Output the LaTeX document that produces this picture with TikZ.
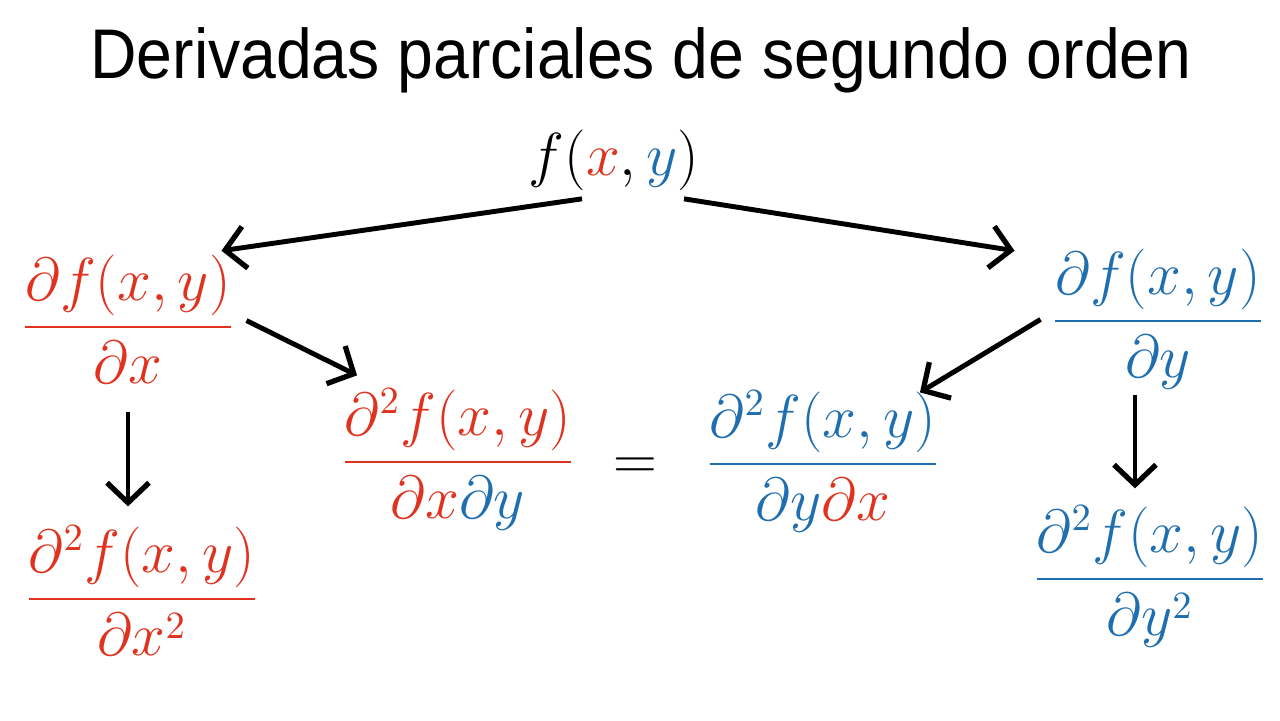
\documentclass[tikz,border=0pt]{standalone}
\usepackage{amsmath}
\usepackage{xcolor}
\usepackage{graphicx}
\usepackage{fontspec}
\setmainfont{Liberation Sans}
\usetikzlibrary{arrows.meta,calc}
\definecolor{xred}{HTML}{E0321E}
\definecolor{xblue}{HTML}{1F6EB0}

\begin{document}
\begin{tikzpicture}[x=0.1mm,y=-0.1mm,
		deriv/.style={inner sep=0pt,anchor=base,font=\fontsize{16}{19}\selectfont},
		flecha/.style={-{Straight Barb[length=2mm,width=4.2mm,line width=1.5pt]},line width=1.4pt}]
		\useasboundingbox (0,0) rectangle (1280,720);
		\node[font=\fontsize{20}{24}\selectfont,anchor=base] (titulo) at (641,78) {\scalebox{0.915}[1]{Derivadas parciales de segundo orden}};
		\node[deriv,font=\fontsize{17.6}{21}\selectfont] (top) at (614,175) {$f(\textcolor{xred}{x},\textcolor{xblue}{y})$};
		% primeras derivadas
		\node[deriv,text=xred] (dx) at (128,342) {$\dfrac{\partial f(x,y)}{\partial x}$};
		\node[deriv,text=xblue] (dy) at (1158,336) {$\dfrac{\partial f(x,y)}{\partial y}$};
		% segundas derivadas
		\node[deriv,text=xred] (dxdy) at (458,477) {$\dfrac{\partial^2 f(x,y)}{\partial x{\color{xblue}\partial y}}$};
		\node[deriv] (igual) at (635,479) {$=$};
		\node[deriv,text=xblue] (dydx) at (823,479) {$\dfrac{\partial^2 f(x,y)}{\partial y{\color{xred}\partial x}}$};
		\node[deriv,text=xred] (dxx) at (142,614) {$\dfrac{\partial^2 f(x,y)}{\partial x^2}$};
		\node[deriv,text=xblue] (dyy) at (1150,594) {$\dfrac{\partial^2 f(x,y)}{\partial y^2}$};
		% flechas
		\draw[flecha] ($(top.south)+(-32,8)$) -- ($(dx.north east)+(-14,-4)$);
		\draw[flecha] ($(top.south)+(70,8)$) -- ($(dy.north west)+(-36,2)$);
		\draw[flecha] ($(dx.east)+(11,1)$) -- ($(dxdy.north west)+(17,-13)$);
		\draw[flecha] ($(dy.west)+(-10,0)$) -- ($(dydx.north east)+(-21,2)$);
		\draw[flecha] ($(dx.south)+(0,28)$) -- ($(dx.south |- dxx.north)+(0,-19)$);
		\draw[flecha] ($(dy.south)+(-23,5)$) -- ($(dy.south |- dyy.north)+(-23,-17)$);
	\end{tikzpicture}
\end{document}
